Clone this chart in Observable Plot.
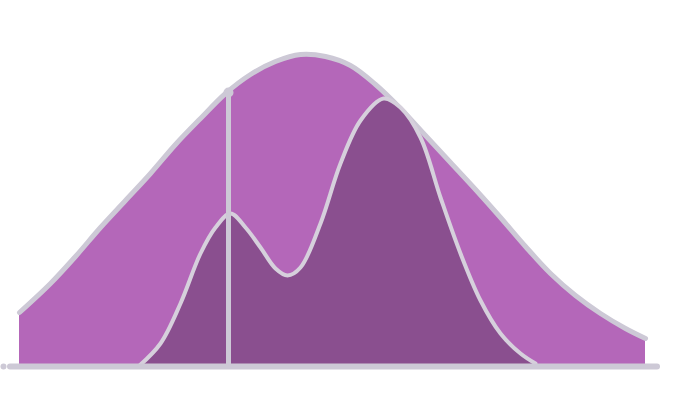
<!DOCTYPE html>
<html>
<head>
<meta charset="utf-8">
<script src="https://cdn.jsdelivr.net/npm/d3@7"></script>
<script src="https://cdn.jsdelivr.net/npm/@observablehq/plot@0.6"></script>
<style>
  body { margin: 0; background: #fff; }
</style>
</head>
<body>
<div id="chart"></div>
<script>
// wide distribution (light) - height above the baseline
const wideX = [19, 50, 75, 100, 125, 150, 175, 200, 225, 250, 275, 300, 325, 350, 375, 400, 425, 450, 475, 500, 525, 550, 575, 600, 625, 645];
const wideY = [54, 83, 110, 139, 166, 193, 222, 248, 273, 292, 305, 312, 310, 301, 282, 258, 231, 204, 177, 149, 120, 93, 71, 53, 38, 28];

// bimodal distribution (dark)
const peakX = [138, 160, 180, 200, 215, 230, 245, 260, 275, 287, 300, 320, 340, 360, 383, 400, 420, 440, 460, 480, 500, 520, 535];
const peakY = [0, 23, 63, 113, 139, 153, 139, 119, 98, 91, 99, 143, 203, 246, 268, 259, 229, 169, 113, 66, 33, 13, 3];

// marker line
const markX = 228;
const markTop = 274;

const wide = wideX.map((x, i) => ({x, y: wideY[i]}));
const peaks = peakX.map((x, i) => ({x, y: peakY[i]}));

const grey = "#cdc9d6";

const chart = Plot.plot({
  width: 689,
  height: 417,
  marginTop: 0,
  marginRight: 0,
  marginBottom: 51,
  marginLeft: 0,
  x: {domain: [0, 689], axis: null},
  y: {domain: [0, 366], axis: null},
  marks: [
    Plot.areaY(wide, {x: "x", y: "y", fill: "#b467b9", curve: "catmull-rom"}),
    Plot.line(wide, {x: "x", y: "y", stroke: grey, strokeWidth: 5, curve: "catmull-rom"}),
    Plot.areaY(peaks, {x: "x", y: "y", fill: "#8a4f8f", curve: "catmull-rom"}),
    Plot.line(peaks, {x: "x", y: "y", stroke: "#d6d0dc", strokeWidth: 4, curve: "catmull-rom"}),
    Plot.ruleX([markX], {y1: 0, y2: markTop, stroke: grey, strokeWidth: 5}),
    Plot.dot([markX], {x: d => d, y: markTop, r: 5, fill: grey}),
    Plot.ruleY([0], {x1: 10, x2: 657, stroke: grey, strokeWidth: 6, strokeLinecap: "round"}),
    Plot.dot([3], {x: d => d, y: 0, r: 3, fill: grey})
  ]
});

document.getElementById("chart").append(chart);
</script>
</body>
</html>
